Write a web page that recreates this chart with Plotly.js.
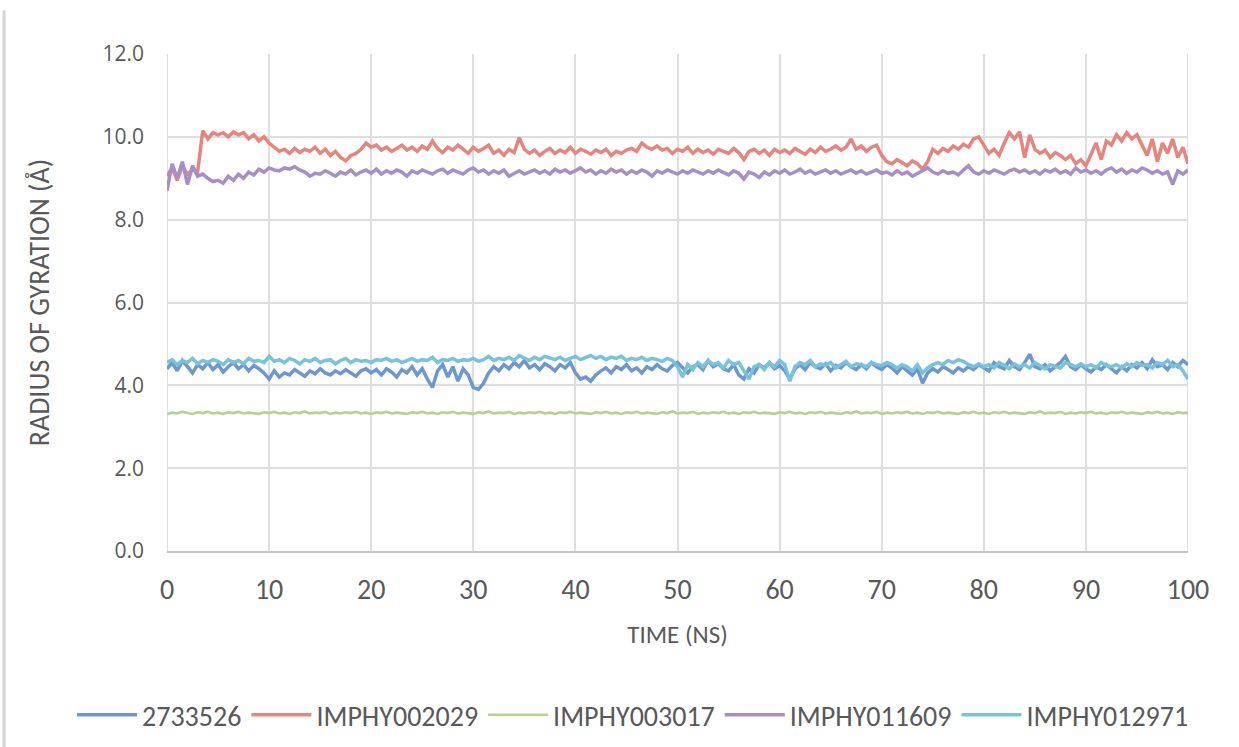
<!DOCTYPE html>
<html>
<head>
<meta charset="utf-8">
<script src="https://cdn.plot.ly/plotly-3.0.1.min.js"></script>
<style>
html,body{margin:0;padding:0;background:#fff;}
#chart{width:1239px;height:747px;}
</style>
</head>
<body>
<div id="chart"></div>
<script>
// Time axis: samples every 0.5 ns from 0 to 100 ns
const T_START = 0;
const T_STEP = 0.5;

const seriesNames = ["2733526", "IMPHY002029", "IMPHY003017", "IMPHY011609", "IMPHY012971"];
const xTickVals = [0, 10, 20, 30, 40, 50, 60, 70, 80, 90, 100];
const yTickVals = [0, 2, 4, 6, 8, 10, 12];
const yTickText = ["0.0", "2.0", "4.0", "6.0", "8.0", "10.0", "12.0"];

const rg_2733526 = [
4.40,4.55,4.35,4.60,4.45,4.30,4.50,4.40,4.55,4.38,4.50,4.32,4.45,4.55,4.40,4.50,4.35,4.48,4.40,4.30,
4.15,4.35,4.20,4.30,4.25,4.38,4.30,4.22,4.35,4.28,4.40,4.30,4.25,4.35,4.28,4.38,4.30,4.22,4.35,4.40,
4.30,4.38,4.25,4.40,4.32,4.20,4.38,4.30,4.45,4.25,4.40,4.15,3.95,4.35,4.50,4.20,4.45,4.10,4.40,4.25,
3.95,3.90,4.05,4.30,4.45,4.35,4.50,4.40,4.55,4.45,4.60,4.42,4.50,4.38,4.52,4.45,4.35,4.50,4.42,4.55,
4.30,4.15,4.20,4.10,4.25,4.35,4.42,4.30,4.45,4.38,4.50,4.35,4.42,4.30,4.45,4.38,4.50,4.40,4.35,4.48,
4.55,4.42,4.30,4.45,4.50,4.38,4.60,4.45,4.52,4.40,4.35,4.50,4.25,4.15,4.40,4.30,4.50,4.42,4.55,4.40,
4.48,4.35,4.15,4.40,4.50,4.38,4.55,4.45,4.40,4.52,4.35,4.48,4.42,4.55,4.45,4.38,4.50,4.40,4.55,4.45,
4.38,4.50,4.42,4.30,4.45,4.35,4.25,4.40,4.05,4.30,4.40,4.32,4.45,4.38,4.30,4.42,4.35,4.45,4.38,4.50,
4.42,4.35,4.55,4.45,4.40,4.60,4.45,4.38,4.55,4.75,4.45,4.40,4.50,4.35,4.45,4.55,4.70,4.45,4.38,4.50,
4.40,4.32,4.45,4.38,4.50,4.40,4.30,4.45,4.35,4.50,4.42,4.55,4.40,4.62,4.45,4.50,4.38,4.55,4.45,4.60,
4.50
];

const rg_IMPHY002029 = [
9.05,9.25,8.95,9.30,9.10,9.20,9.15,10.15,9.95,10.10,10.05,10.10,10.00,10.12,10.05,10.10,9.95,10.05,9.90,10.00,
9.85,9.75,9.65,9.70,9.60,9.72,9.62,9.70,9.65,9.75,9.60,9.70,9.55,9.65,9.50,9.42,9.55,9.60,9.70,9.85,
9.75,9.80,9.68,9.75,9.65,9.72,9.80,9.68,9.75,9.65,9.78,9.70,9.90,9.72,9.62,9.75,9.68,9.80,9.70,9.60,
9.75,9.65,9.72,9.80,9.60,9.68,9.55,9.70,9.62,9.98,9.70,9.60,9.68,9.55,9.65,9.72,9.60,9.68,9.62,9.75,
9.60,9.70,9.65,9.58,9.68,9.62,9.70,9.55,9.65,9.60,9.68,9.72,9.65,9.85,9.75,9.70,9.78,9.68,9.72,9.60,
9.70,9.65,9.75,9.60,9.70,9.62,9.68,9.58,9.70,9.65,9.60,9.72,9.62,9.45,9.65,9.70,9.60,9.68,9.55,9.70,
9.62,9.68,9.60,9.72,9.65,9.58,9.70,9.62,9.75,9.65,9.70,9.78,9.68,9.75,9.95,9.70,9.78,9.65,9.75,9.80,
9.55,9.40,9.35,9.45,9.38,9.30,9.42,9.35,9.22,9.40,9.70,9.60,9.72,9.65,9.78,9.70,9.82,9.75,9.95,10.00,
9.80,9.60,9.70,9.55,9.85,10.10,9.95,10.12,9.50,10.05,9.70,9.60,9.68,9.50,9.62,9.55,9.45,9.55,9.35,9.45,
9.30,9.60,9.85,9.45,9.90,9.80,10.05,9.90,10.10,9.95,10.05,9.80,9.55,9.95,9.40,9.85,9.60,9.95,9.50,9.75,
9.35
];

const rg_IMPHY003017 = [
3.30,3.34,3.32,3.36,3.33,3.31,3.35,3.33,3.36,3.32,3.34,3.31,3.35,3.33,3.36,3.32,3.34,3.33,3.31,3.35,
3.33,3.36,3.32,3.34,3.31,3.35,3.33,3.37,3.32,3.34,3.33,3.36,3.31,3.34,3.32,3.35,3.33,3.36,3.32,3.34,
3.31,3.35,3.33,3.36,3.32,3.34,3.33,3.31,3.35,3.33,3.36,3.32,3.34,3.31,3.35,3.33,3.36,3.32,3.34,3.33,
3.31,3.35,3.33,3.37,3.32,3.34,3.33,3.36,3.31,3.34,3.32,3.35,3.33,3.36,3.32,3.34,3.31,3.35,3.33,3.36,
3.32,3.34,3.33,3.31,3.35,3.33,3.36,3.32,3.34,3.31,3.35,3.33,3.36,3.32,3.34,3.33,3.31,3.35,3.33,3.37,
3.32,3.34,3.33,3.36,3.31,3.34,3.32,3.35,3.33,3.36,3.32,3.34,3.31,3.35,3.33,3.36,3.32,3.34,3.33,3.31,
3.35,3.33,3.36,3.32,3.34,3.31,3.35,3.33,3.36,3.32,3.34,3.33,3.31,3.35,3.33,3.37,3.32,3.34,3.33,3.36,
3.31,3.34,3.32,3.35,3.33,3.36,3.32,3.34,3.31,3.35,3.33,3.36,3.32,3.34,3.33,3.31,3.35,3.33,3.36,3.32,
3.34,3.31,3.35,3.33,3.36,3.32,3.34,3.33,3.31,3.35,3.33,3.37,3.32,3.34,3.33,3.36,3.31,3.34,3.32,3.35,
3.33,3.36,3.32,3.34,3.31,3.35,3.33,3.36,3.32,3.34,3.33,3.31,3.35,3.33,3.36,3.32,3.34,3.31,3.35,3.33,
3.34
];

const rg_IMPHY011609 = [
8.70,9.35,9.00,9.40,8.85,9.30,9.05,9.10,9.00,8.92,8.95,8.88,9.05,8.95,9.10,9.00,9.15,9.08,9.22,9.15,
9.25,9.20,9.18,9.25,9.22,9.28,9.20,9.15,9.05,9.12,9.10,9.18,9.12,9.05,9.15,9.10,9.20,9.08,9.15,9.20,
9.12,9.22,9.10,9.18,9.12,9.20,9.15,9.05,9.18,9.12,9.20,9.15,9.10,9.18,9.22,9.12,9.20,9.15,9.10,9.20,
9.25,9.15,9.20,9.10,9.18,9.12,9.20,9.05,9.12,9.18,9.10,9.15,9.20,9.12,9.18,9.10,9.22,9.15,9.20,9.12,
9.18,9.25,9.15,9.20,9.10,9.18,9.12,9.22,9.15,9.20,9.10,9.18,9.12,9.20,9.15,9.05,9.18,9.12,9.20,9.15,
9.10,9.18,9.12,9.20,9.15,9.10,9.18,9.12,9.20,9.15,9.08,9.18,9.12,8.98,9.15,9.10,9.02,9.15,9.08,9.18,
9.12,9.20,9.10,9.15,9.22,9.12,9.18,9.10,9.15,9.20,9.12,9.18,9.10,9.15,9.20,9.12,9.18,9.10,9.15,9.20,
9.12,9.15,9.08,9.18,9.10,9.15,9.05,9.12,9.20,9.25,9.15,9.10,9.18,9.12,9.15,9.08,9.20,9.30,9.15,9.10,
9.18,9.12,9.20,9.15,9.10,9.18,9.22,9.15,9.20,9.12,9.18,9.10,9.20,9.15,9.22,9.12,9.18,9.10,9.25,9.15,
9.20,9.12,9.18,9.10,9.20,9.25,9.15,9.22,9.12,9.20,9.15,9.25,9.20,9.12,9.18,9.10,9.15,8.85,9.18,9.10,
9.20
];

const rg_IMPHY012971 = [
4.55,4.62,4.50,4.60,4.55,4.65,4.52,4.60,4.55,4.62,4.58,4.50,4.62,4.55,4.60,4.52,4.65,4.58,4.60,4.55,
4.70,4.58,4.62,4.55,4.65,4.60,4.52,4.62,4.58,4.65,4.55,4.60,4.62,4.52,4.60,4.65,4.55,4.62,4.58,4.60,
4.55,4.62,4.60,4.65,4.58,4.62,4.55,4.60,4.65,4.58,4.62,4.60,4.68,4.55,4.62,4.60,4.65,4.58,4.62,4.60,
4.65,4.58,4.62,4.70,4.60,4.65,4.62,4.68,4.60,4.72,4.65,4.60,4.68,4.62,4.70,4.65,4.62,4.68,4.60,4.65,
4.70,4.62,4.68,4.72,4.65,4.70,4.62,4.68,4.65,4.70,4.60,4.65,4.62,4.68,4.60,4.65,4.62,4.58,4.65,4.60,
4.45,4.20,4.50,4.38,4.55,4.45,4.60,4.50,4.55,4.42,4.60,4.50,4.55,4.35,4.15,4.45,4.50,4.38,4.55,4.45,
4.60,4.50,4.10,4.45,4.55,4.50,4.60,4.45,4.52,4.48,4.55,4.42,4.50,4.58,4.45,4.52,4.50,4.45,4.55,4.50,
4.48,4.55,4.50,4.42,4.50,4.45,4.35,4.50,4.30,4.42,4.50,4.55,4.50,4.60,4.55,4.62,4.58,4.50,4.45,4.52,
4.45,4.50,4.42,4.55,4.48,4.40,4.52,4.45,4.50,4.42,4.55,4.48,4.40,4.50,4.45,4.42,4.55,4.50,4.45,4.52,
4.45,4.50,4.42,4.55,4.48,4.45,4.50,4.42,4.52,4.45,4.55,4.48,4.50,4.42,4.55,4.50,4.60,4.45,4.50,4.35,
4.15
];

const seriesValues = [rg_2733526, rg_IMPHY002029, rg_IMPHY003017, rg_IMPHY011609, rg_IMPHY012971];
const seriesColors = ["#6e97cf", "#e5857d", "#b8d08e", "#a48fc9", "#76c3dc"];
const seriesWidths = [3.5, 3.5, 2.6, 3.5, 3.5];

const labelFont = 'Carlito, "Open Sans", "Noto Sans", sans-serif';
const yTickFont = '"Open Sans", "Noto Sans", sans-serif';

const traces = seriesNames.map((name, k) => ({
  type: 'scatter',
  mode: 'lines',
  name: name,
  x0: T_START,
  dx: T_STEP,
  y: seriesValues[k],
  line: {color: seriesColors[k], width: seriesWidths[k]},
  hoverinfo: 'skip'
}));

const layout = {
  width: 1239,
  height: 747,
  paper_bgcolor: '#ffffff',
  plot_bgcolor: '#ffffff',
  margin: {l: 167, r: 51, t: 54, b: 196, autoexpand: false},
  showlegend: true,
  legend: {
    orientation: 'h',
    x: -0.093, xanchor: 'left',
    y: -0.33, yanchor: 'middle',
    font: {family: labelFont, size: 28, color: '#595959'},
    itemwidth: 60,
    traceorder: 'normal'
  },
  xaxis: {
    range: [0, 100],
    tickvals: xTickVals,
    ticktext: xTickVals.map(String),
    showgrid: true,
    gridcolor: '#dedede',
    gridwidth: 2,
    zeroline: false,
    showline: true,
    linecolor: '#c4c4c4',
    linewidth: 2,
    ticks: '',
    ticklabelstandoff: 12,
    tickfont: {family: labelFont, size: 28, color: '#595959'},
    title: {text: 'TIME (NS)', font: {family: labelFont, size: 25, color: '#595959'}, standoff: 20}
  },
  yaxis: {
    range: [0, 12],
    tickvals: yTickVals,
    ticktext: yTickText,
    showgrid: true,
    gridcolor: '#dedede',
    gridwidth: 2,
    zeroline: false,
    showline: false,
    ticks: '',
    ticklabelstandoff: 22,
    tickfont: {family: yTickFont, size: 21, color: '#595959'},
    title: {text: 'RADIUS OF GYRATION (Å)', font: {family: labelFont, size: 28, color: '#595959'}, standoff: 44}
  },
  shapes: [
    {type: 'line', xref: 'x', yref: 'y', x0: 100, x1: 100, y0: 0, y1: 12, line: {color: '#dedede', width: 2}, layer: 'below'},
    {type: 'line', xref: 'x', yref: 'y', x0: 0, x1: 0, y0: 0, y1: 12, line: {color: '#dedede', width: 2}, layer: 'below'},
    {type: 'line', xref: 'paper', yref: 'paper', x0: -0.1596, x1: -0.1596, y0: 1.088, y1: -0.40, line: {color: '#d4d4d4', width: 3}}
  ]
};

Plotly.newPlot('chart', traces, layout, {displayModeBar: false, staticPlot: true});
</script>
</body>
</html>
